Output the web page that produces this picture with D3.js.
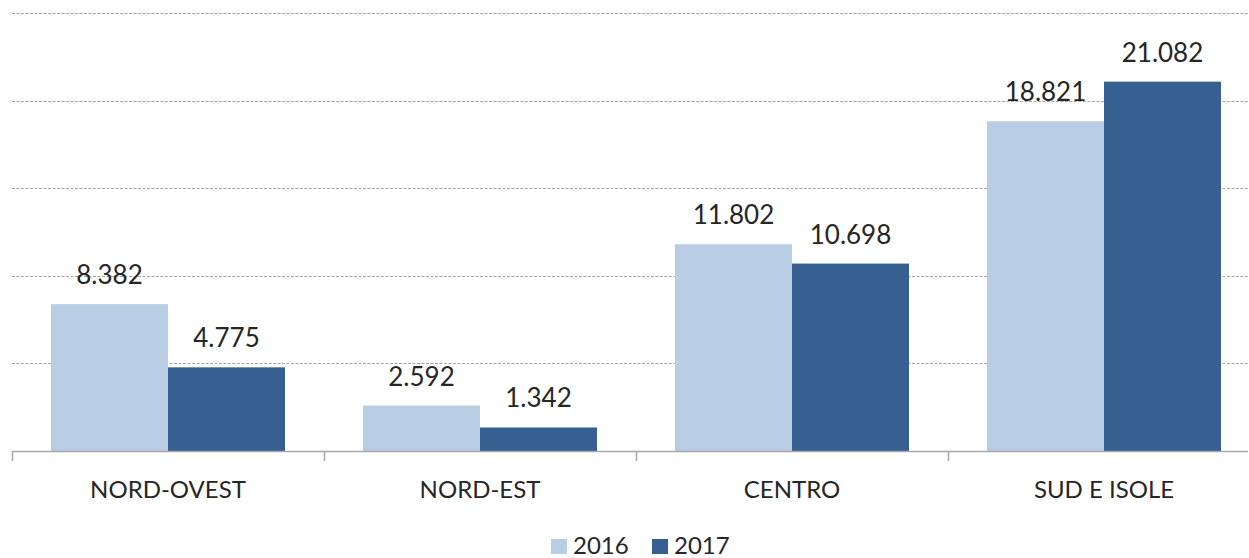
<!DOCTYPE html>
<html><head><meta charset="utf-8">
<script src="https://cdn.jsdelivr.net/npm/d3@7"></script>
<style>body{margin:0;background:#fff}svg{display:block}</style>
</head><body>
<svg id="c" width="1249" height="558"></svg>
<script>
const categories = ["NORD-OVEST", "NORD-EST", "CENTRO", "SUD E ISOLE"];
const seriesNames = ["2016", "2017"];
const values2016 = [8382, 2592, 11802, 18821];
const values2017 = [4775, 1342, 10698, 21082];
const yTicks = [0, 5000, 10000, 15000, 20000, 25000];
const colors = ["#B9CDE5", "#376092"];

(function () {
const svg = d3.select("#c");
const pl = 12, pr = 1260, pt = 13, pb = 451;
const clipR = 1248;
const x = d3.scaleBand().domain(categories).range([pl, pr]).paddingInner(0).paddingOuter(0);
const xs = d3.scaleBand().domain(seriesNames).range([0, x.bandwidth()]).paddingInner(0).paddingOuter(1 / 3);
const y = d3.scaleLinear().domain([0, 25000]).range([pb, pt]);
const fmt = v => d3.format(",")(v).replace(/,/g, ".");
const font = "Lato, 'Liberation Sans', sans-serif";

// gridlines
svg.append("g").selectAll("line").data(yTicks.filter(d => d > 0)).join("line")
  .attr("x1", pl).attr("x2", clipR)
  .attr("y1", d => Math.round(y(d)) + 0.5).attr("y2", d => Math.round(y(d)) + 0.5)
  .attr("stroke", "#a6a6a6").attr("stroke-width", 1).attr("stroke-dasharray", "3,1.5");

const data = categories.map((c, i) => ({c, vals: [values2016[i], values2017[i]]}));
const g = svg.append("g").selectAll("g").data(data).join("g")
  .attr("transform", d => `translate(${x(d.c)},0)`);
g.selectAll("rect").data(d => d.vals.map((v, j) => ({s: seriesNames[j], v, j}))).join("rect")
  .attr("x", d => xs(d.s)).attr("width", xs.bandwidth())
  .attr("y", d => y(d.v)).attr("height", d => y(0) - y(d.v))
  .attr("fill", d => colors[d.j]);
g.selectAll("text").data(d => d.vals.map((v, j) => ({s: seriesNames[j], v, j}))).join("text")
  .attr("x", d => xs(d.s) + xs.bandwidth() / 2).attr("y", d => y(d.v) - 20)
  .attr("text-anchor", "middle").attr("font-family", font).attr("font-size", 26)
  .attr("fill", "#262626").text(d => fmt(d.v));

// x axis
const ax = svg.append("g").attr("transform", `translate(0,${pb})`)
  .call(d3.axisBottom(x).tickSize(0).tickPadding(0));
ax.select(".domain").attr("stroke", "#a6a6a6").attr("stroke-width", 1.5).attr("d", `M${pl},0.5H${clipR}`);
ax.selectAll(".tick text").attr("dy", null).attr("y", 47)
  .attr("font-family", font).attr("font-size", 24).attr("fill", "#262626");
const bounds = categories.map(c => x(c));
svg.append("g").selectAll("line").data(bounds).join("line")
  .attr("x1", d => Math.round(d) + 0.5).attr("x2", d => Math.round(d) + 0.5)
  .attr("y1", pb).attr("y2", pb + 10).attr("stroke", "#a6a6a6").attr("stroke-width", 1.5);

// legend
const leg = svg.append("g").attr("transform", "translate(551,538)");
const items = [{n: seriesNames[0], x: 0}, {n: seriesNames[1], x: 101}];
items.forEach((it, i) => {
  leg.append("rect").attr("x", it.x).attr("y", 1).attr("width", 16).attr("height", 15).attr("fill", colors[i]);
  leg.append("text").attr("x", it.x + 22).attr("y", 16).attr("font-family", font).attr("font-size", 24)
    .attr("fill", "#262626").text(it.n);
});
})();
</script>
</body></html>
